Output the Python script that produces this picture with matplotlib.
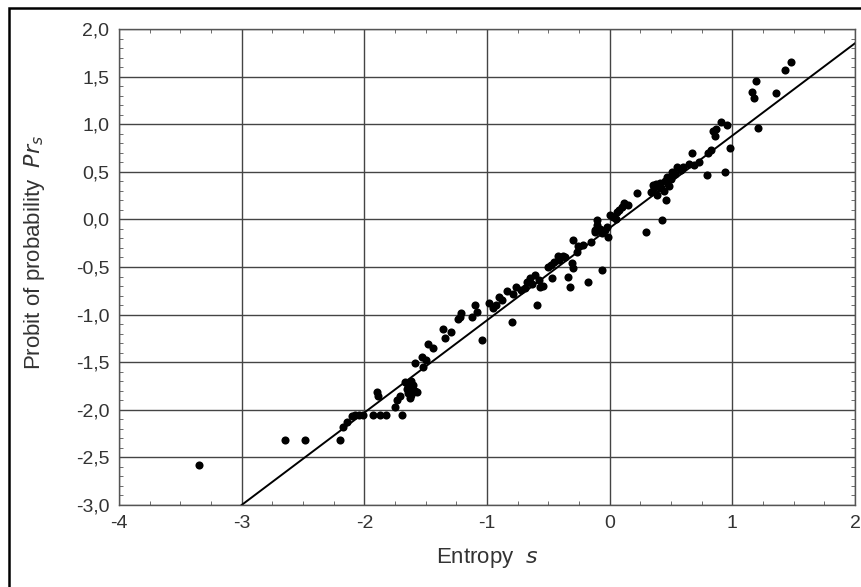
import numpy as np
import matplotlib
matplotlib.use("Agg")
import matplotlib.pyplot as plt
from matplotlib.ticker import MultipleLocator, FuncFormatter
from matplotlib.patches import Rectangle

plt.rcParams["font.family"] = ["Liberation Sans", "DejaVu Sans"]

# Entropy s and probit values
entropy = [
    -3.35, -2.65, -2.48, -2.20, -2.17, -2.14, -2.10, -2.08, -2.04, -2.01,
    -1.93, -1.87, -1.82, -1.69, -1.90, -1.89, -1.75, -1.73, -1.71, -1.67,
    -1.65, -1.64, -1.63, -1.61, -1.60, -1.59, -1.57, -1.62, -1.59, -1.53,
    -1.52, -1.50, -1.48, -1.36, -1.34, -1.29, -1.24, -1.21, -1.22, -1.10,
    -1.08, -1.12, -1.04, -0.98, -0.95, -0.93, -0.84, -0.80, -0.79, -0.76,
    -0.72, -0.69, -0.67, -0.63, -0.61, -0.59, -0.57, -0.54, -0.50, -0.48,
    -0.47, -0.45, -0.41, -0.38, -0.36, -0.34, -0.32, -0.31, -0.30, -0.30,
    -0.27, -0.22, -0.18, -0.15, -0.12, -0.10, -0.10, -0.12, -0.06, -0.06,
    -0.04, -0.02, -0.01, 0.00, 0.03, 0.06, 0.08, 0.10, 0.12, 0.15,
    0.22, 0.30, 0.34, 0.36, 0.38, 0.41, 0.42, 0.43, 0.44, 0.46,
    0.47, 0.48, 0.51, 0.55, 0.53, 0.67, 0.69, 0.73, 0.79, 0.80,
    0.83, 0.84, 0.86, 0.87, 0.91, 0.94, 0.96, 0.98, 1.16, 1.18,
    1.19, 1.21, 1.36, 1.43, 1.48,
    -0.88, -0.90, -0.65, -0.58, -0.26, -0.42, -0.08, 0.05, 0.39, 0.45,
    0.58, 0.60, 0.65, 0.35, 0.50, -1.44, -1.64, -1.62,
]
probit = [
    -2.58, -2.32, -2.32, -2.32, -2.18, -2.13, -2.07, -2.05, -2.05, -2.05,
    -2.05, -2.05, -2.05, -2.05, -1.81, -1.86, -1.97, -1.90, -1.86, -1.71,
    -1.78, -1.82, -1.88, -1.77, -1.74, -1.80, -1.81, -1.84, -1.51, -1.45,
    -1.55, -1.48, -1.31, -1.15, -1.25, -1.18, -1.05, -0.98, -1.02, -0.90,
    -0.97, -1.02, -1.27, -0.88, -0.93, -0.90, -0.75, -1.08, -0.78, -0.71,
    -0.74, -0.72, -0.66, -0.68, -0.58, -0.90, -0.71, -0.70, -0.50, -0.48,
    -0.62, -0.45, -0.43, -0.38, -0.40, -0.61, -0.71, -0.46, -0.51, -0.22,
    -0.34, -0.27, -0.66, -0.24, -0.13, -0.06, -0.01, -0.11, -0.53, -0.14,
    -0.11, -0.08, -0.18, 0.05, 0.03, 0.08, 0.10, 0.13, 0.17, 0.15,
    0.28, -0.13, 0.29, 0.33, 0.37, 0.38, 0.33, -0.01, 0.30, 0.20,
    0.45, 0.35, 0.50, 0.55, 0.48, 0.70, 0.57, 0.60, 0.47, 0.70,
    0.73, 0.93, 0.88, 0.95, 1.02, 0.50, 0.99, 0.75, 1.34, 1.27,
    1.45, 0.96, 1.33, 1.57, 1.65,
    -0.85, -0.82, -0.62, -0.64, -0.28, -0.38, -0.10, 0.00, 0.26, 0.40,
    0.52, 0.55, 0.58, 0.36, 0.42, -1.35, -1.75, -1.70,
]

# fitted line Pr = slope * s + intercept
slope = 0.97
intercept = -0.09
line_s = [-3.0, 2.0]

fig = plt.figure(figsize=(8.61, 5.87), dpi=100)
ax = fig.add_axes([0.1382, 0.1397, 0.8548, 0.8109])

ax.scatter(entropy, probit, s=34, color="black", zorder=3, linewidths=0)
xs = np.array(line_s)
ax.plot(xs, slope * xs + intercept, color="black", lw=1.4, zorder=2)

ax.set_xlim(-4, 2)
ax.set_ylim(-3, 2)
ax.xaxis.set_major_locator(MultipleLocator(1))
ax.xaxis.set_minor_locator(MultipleLocator(0.25))
ax.yaxis.set_major_locator(MultipleLocator(0.5))
ax.yaxis.set_minor_locator(MultipleLocator(0.1))
ax.yaxis.set_major_formatter(FuncFormatter(lambda v, p: f"{v:.1f}".replace(".", ",")))
ax.xaxis.set_major_formatter(FuncFormatter(lambda v, p: f"{v:.0f}"))

ax.grid(True, which="major", color="#444444", lw=1.0)
ax.tick_params(which="both", direction="in", top=True, right=True, colors="#555555",
               labelcolor="#333333", labelsize=14)
ax.tick_params(which="major", length=0, pad=7)
ax.tick_params(which="minor", length=3, width=0.6)
for sp in ax.spines.values():
    sp.set_color("#555555")
    sp.set_linewidth(1.0)

ax.set_xlabel("Entropy  $s$", fontsize=16, color="#333333", labelpad=10)
ax.set_ylabel("Probit of probability  $Pr_s$", fontsize=16, color="#333333")
ax.yaxis.set_label_coords(-0.098, 0.53)

# outer frame, cut off at right and bottom
fig.patches.append(Rectangle((9 / 861, -0.05), 1.2, 1 - 8 / 587 + 0.05,
                             transform=fig.transFigure, fill=False,
                             edgecolor="black", lw=1.8))

fig.savefig("out.png", dpi=100)
